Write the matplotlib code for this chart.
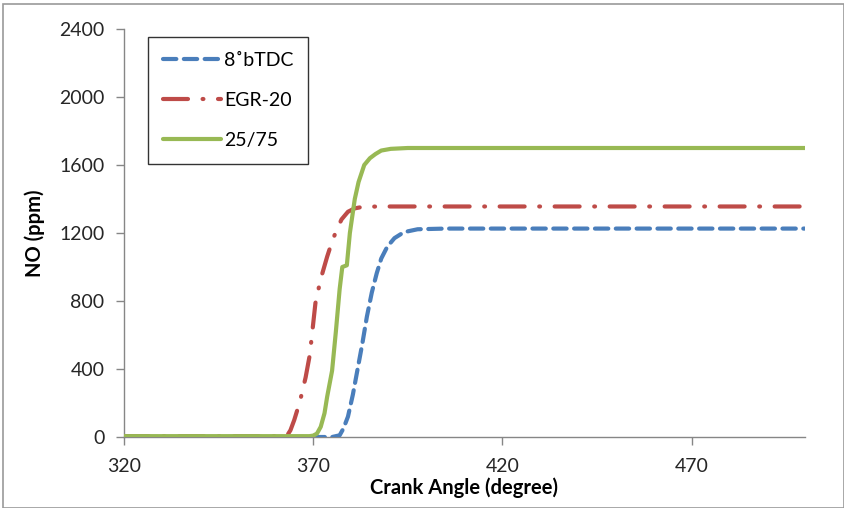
import matplotlib
matplotlib.use("Agg")
import matplotlib.pyplot as plt
from matplotlib.patches import Rectangle

plt.rcParams['font.family'] = ['Lato', 'DejaVu Sans']

# Data
x_btdc = [320, 370, 375, 377, 378, 379.2, 380.5, 381.7, 383, 384.2, 385.5, 386.8,
          388, 389.6, 391.5, 394, 397.6, 405, 500]
y_btdc = [0, 0, 0, 10, 50, 120, 250, 394, 550, 708, 850, 963,
          1050, 1120, 1170, 1205, 1222, 1226, 1226]

x_egr = [320, 340, 360, 363.1, 364, 365, 366.5, 368, 369.1, 370.6, 372, 373.7,
         375, 376.2, 377.5, 379.2, 381, 383.4, 390, 500]
y_egr = [5, 5, 5, 8, 40, 100, 209, 350, 482, 788, 930, 1061,
         1150, 1218, 1280, 1325, 1345, 1355, 1356, 1356]

x_2575 = [320, 340, 360, 369, 370, 371, 372, 373, 373.7, 375, 376, 377, 377.7,
          378.9, 379.7, 381, 382, 383.5, 385, 386.5, 388, 390.5, 395, 420, 500]
y_2575 = [5, 5, 5, 5, 8, 20, 60, 140, 237, 390, 620, 870, 1000,
          1010, 1200, 1400, 1500, 1600, 1640, 1665, 1685, 1695, 1700, 1700, 1700]

labels = ["8˚bTDC", "EGR-20", "25/75"]
x_ticks = [320, 370, 420, 470]
y_ticks = [0, 400, 800, 1200, 1600, 2000, 2400]

fig = plt.figure(figsize=(8.45, 5.08), dpi=100)
ax = fig.add_axes([124/845, 1-437/508, (805-124)/845, (437-29)/508])

blue = '#4A7EBB'
red = '#BE4B48'
green = '#98B954'

ax.plot(x_btdc, y_btdc, color=blue, lw=3, linestyle=(0, (3.2, 1.8)),
        dash_capstyle='round', label=labels[0], zorder=3)
ax.plot(x_egr, y_egr, color=red, lw=3, linestyle=(0, (6, 3.5, 0.2, 3.5)),
        dash_capstyle='round', label=labels[1], zorder=3)
ax.plot(x_2575, y_2575, color=green, lw=3, solid_capstyle='round',
        label=labels[2], zorder=4)

ax.set_xlim(320, 500)
ax.set_ylim(0, 2400)
ax.set_xticks(x_ticks)
ax.set_yticks(y_ticks)
ax.tick_params(axis='both', labelsize=14, colors='#868686', labelcolor='#262626',
               length=6, width=1, direction='out')
ax.tick_params(axis='x', pad=9)
ax.tick_params(axis='y', pad=8)

for s in ['top', 'right']:
    ax.spines[s].set_visible(False)
for s in ['left', 'bottom']:
    ax.spines[s].set_color('#868686')
    ax.spines[s].set_linewidth(1)

ax.set_xlabel("Crank Angle (degree)", fontsize=14.5, fontweight='bold', labelpad=2)
ax.set_ylabel("NO (ppm)", fontsize=14.5, fontweight='bold', labelpad=10)

leg = ax.legend(loc='upper left', bbox_to_anchor=((148-124)/681, (437-37)/408),
                fontsize=14, frameon=True, fancybox=False, handlelength=3.0,
                handletextpad=0.15, labelspacing=1.2, borderpad=0.75,
                borderaxespad=0)
leg.get_frame().set_edgecolor('black')
leg.get_frame().set_linewidth(1)

fig.patches.append(Rectangle((0.004, 0.0), 0.995, 0.993, transform=fig.transFigure,
                             fill=False, edgecolor='#9a9a9a', lw=1.2))

fig.savefig("out.png", dpi=100)
